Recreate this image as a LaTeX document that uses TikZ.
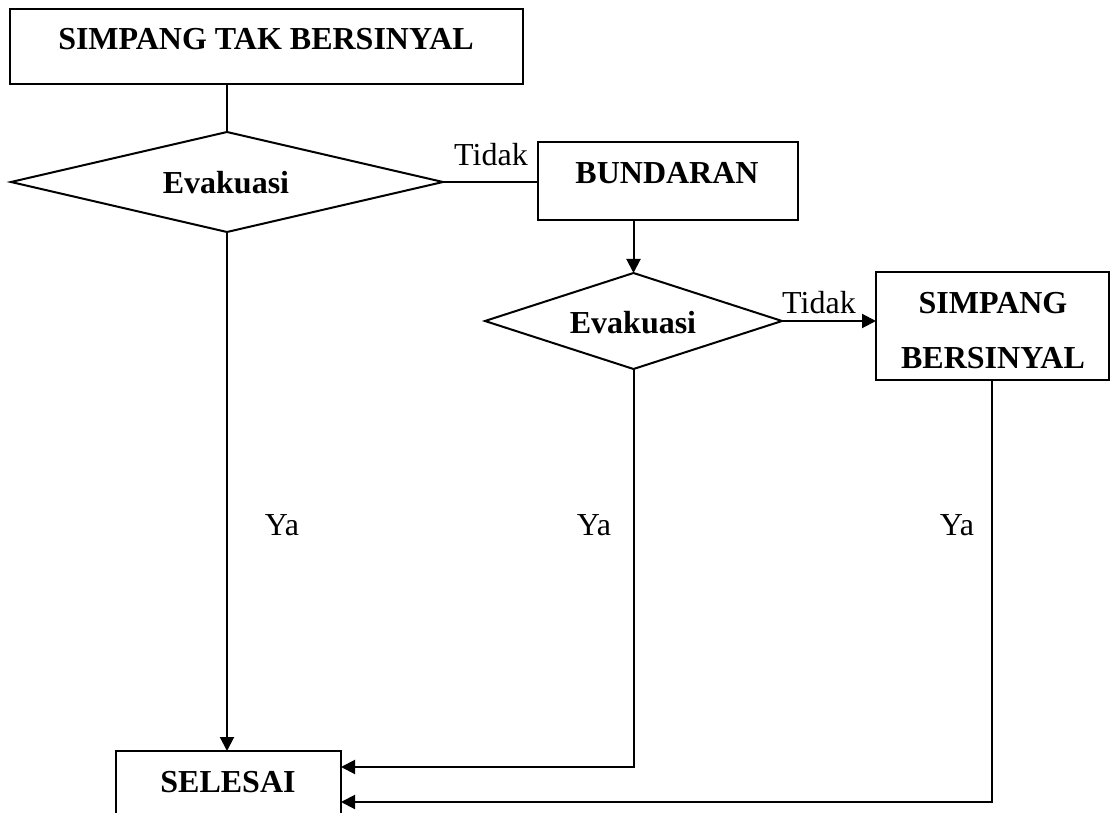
\documentclass[tikz,border=0pt]{standalone}
\usepackage{fontspec}
\setmainfont{Liberation Serif}
\usetikzlibrary{shapes.geometric,arrows.meta,calc}
\begin{document}
\begin{tikzpicture}[x=1pt,y=-1pt,
  line width=2pt,
  every node/.style={font=\fontsize{32}{38}\selectfont},
  boxnode/.style={draw,rectangle,inner sep=0pt,outer sep=0pt},
  dianode/.style={draw,diamond,inner sep=0pt,outer sep=0pt},
  bold/.style={font=\fontsize{32}{38}\selectfont\bfseries},
  conn/.style={line width=2pt},
  arr/.style={line width=2pt,-{Triangle[length=14pt,width=14pt]}}
]
\clip (0,0) rectangle (1112,813);
\useasboundingbox (0,0) rectangle (1112,813);

% boxes
\node[boxnode,minimum width=513pt,minimum height=75pt] (box1) at (266.5,46.5) {};
\node[bold] (t1) at (266,39) {SIMPANG TAK BERSINYAL};

\node[dianode,minimum width=432pt,minimum height=100pt] (dia1) at (227,182) {};
\node[bold] (e1) at (226,183) {Evakuasi};

\node[boxnode,minimum width=260pt,minimum height=78pt] (bund) at (668,181) {};
\node[bold] (tb) at (667,173) {BUNDARAN};

\node[dianode,minimum width=297pt,minimum height=96pt] (dia2) at (633.5,321) {};
\node[bold] (e2) at (633,323) {Evakuasi};

\node[boxnode,minimum width=233pt,minimum height=108pt] (box2) at (992.5,326) {};
\node[bold] (s1) at (993,303) {SIMPANG};
\node[bold] (s2) at (993,358) {BERSINYAL};

\node[boxnode,minimum width=225pt,minimum height=90pt] (sel) at (228.5,796) {};
\node[bold] (ts) at (228,782) {SELESAI};

% labels
\node[anchor=base] (tidak1) at (491,166) {Tidak};
\node[anchor=base] (tidak2) at (819,313) {Tidak};
\node (ya1) at (282,525) {Ya};
\node (ya2) at (594,525) {Ya};
\node (ya3) at (957,525) {Ya};

% connectors
\draw[conn] (dia1.north |- box1.south) -- (dia1.north);
\draw[conn] (dia1.east) -- (dia1.east -| bund.west);
\draw[arr] (dia2.north |- bund.south) -- (dia2.north);
\draw[arr] (dia2.east) -- (dia2.east -| box2.west);
\draw[arr] (dia1.south) -- (dia1.south |- sel.north);
\coordinate (c2) at ($(dia2.south)+(0,398)$);
\draw[arr] (dia2.south) -- (c2) -- (c2 -| sel.east);
\coordinate (b2s) at (992,380);
\coordinate (c3) at (992,802);
\draw[arr] (b2s) -- (c3) -- (c3 -| sel.east);
\end{tikzpicture}
\end{document}
